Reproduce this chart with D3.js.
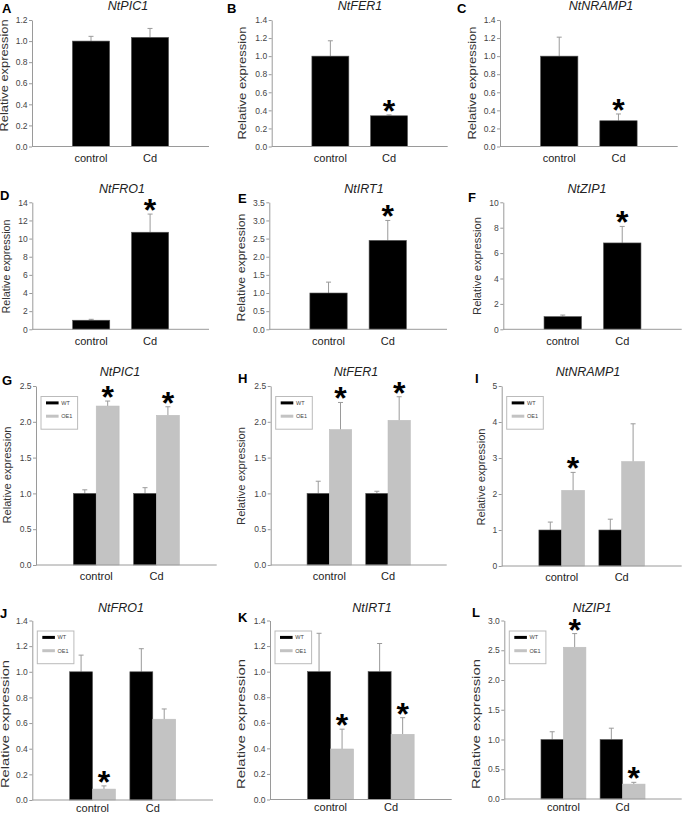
<!DOCTYPE html>
<html><head><meta charset="utf-8">
<script src="https://cdn.jsdelivr.net/npm/d3@7"></script>
<style>
body{margin:0;background:#fff}
svg{display:block}
text{font-family:"Liberation Sans",Arial,Helvetica,sans-serif}
</style>
</head><body>
<svg id="c" width="685" height="817"></svg>
<script>
// ---------------- DATA ----------------
const categories = ["control", "Cd"];
const seriesNames = ["WT", "OE1"];

// Panels A–F : one series, control vs Cd
const singleGenes   = ["NtPIC1", "NtFER1", "NtNRAMP1", "NtFRO1", "NtIRT1", "NtZIP1"];
const singleLetters = ["A", "B", "C", "D", "E", "F"];
const singleMeans   = [[1.00, 1.035], [1.00, 0.34], [1.00, 0.285], [1.00, 10.7], [1.00, 2.45], [1.00, 6.8]];
const singleErrors  = [[0.045, 0.085], [0.17, 0.01], [0.21, 0.075], [0.10, 2.0], [0.30, 0.55], [0.12, 1.3]];
const singleStars   = [[0, 0], [0, 1], [0, 1], [0, 1], [0, 1], [0, 1]];
const singleYMax    = [1.2, 1.4, 1.4, 14, 3.5, 10];
const singleYStep   = [0.2, 0.2, 0.2, 2, 0.5, 2];

// Panels G–L : WT vs OE1, control vs Cd
const pairGenes   = ["NtPIC1", "NtFER1", "NtNRAMP1", "NtFRO1", "NtIRT1", "NtZIP1"];
const pairLetters = ["G", "H", "I", "J", "K", "L"];
const wtMeans  = [[1, 1], [1, 1], [1, 1], [1, 1], [1, 1], [1, 1]];
const wtErrors = [[0.05, 0.08], [0.17, 0.03], [0.22, 0.30], [0.13, 0.18], [0.30, 0.22], [0.13, 0.19]];
const oeMeans  = [[2.22, 2.09], [1.89, 2.02], [2.1, 2.9], [0.085, 0.63], [0.395, 0.51], [2.55, 0.25]];
const oeErrors = [[0.07, 0.12], [0.38, 0.33], [0.5, 1.05], [0.025, 0.08], [0.155, 0.13], [0.23, 0.03]];
const oeStars  = [[1, 1], [1, 1], [1, 0], [1, 0], [1, 1], [1, 1]];
const pairYMax  = [2.5, 2.5, 5, 1.4, 1.4, 3.0];
const pairYStep = [0.5, 0.5, 1, 0.2, 0.2, 0.5];

// ---------------- LAYOUT (positions only) ----------------
const singleLayout = [
  {x0:32,   x1:209,   yT:20,    yB:146.5, tx:128, ty:10,  lx:2,   ly:13,  yx:8,     yy:75.5,  yl:112, pad:7.5},
  {x0:271.7,x1:447.7, yT:20,    yB:146.5, tx:360, ty:10,  lx:227, ly:13,  yx:245.5, yy:83,    yl:113, pad:7.5},
  {x0:500,  x1:677.7, yT:20,    yB:146.5, tx:601, ty:10,  lx:457, ly:13,  yx:476,   yy:83,    yl:113, pad:7.5},
  {x0:32.3, x1:209,   yT:202.3, yB:329.3, tx:122, ty:193, lx:0,   ly:200, yx:9.5,   yy:266.5, yl:94,  pad:8},
  {x0:269.3,x1:447,   yT:202.3, yB:329.3, tx:364, ty:193, lx:238, ly:203, yx:245,   yy:267.5, yl:108, pad:8},
  {x0:503.3,x1:681.7, yT:202.3, yB:329.3, tx:587, ty:193, lx:468, ly:202, yx:481,   yy:266,   yl:98,  pad:8}
];
const pairLayout = [
  {x0:36,   x1:216.7, yT:386,   yB:565,   tx:120, ty:376, lx:2,   ly:385, yx:11,  yy:475, yl:97,  pad:7},
  {x0:270.7,x1:446.7, yT:386,   yB:565,   tx:356, ty:376, lx:238, ly:383, yx:245, yy:476, yl:98,  pad:7},
  {x0:501.7,x1:681.7, yT:386,   yB:566,   tx:588, ty:376, lx:475, ly:383, yx:485, yy:477, yl:97,  pad:7},
  {x0:32.3, x1:213,   yT:620.5, yB:800,   tx:121, ty:612, lx:0,   ly:618, yx:8.5, yy:724, yl:128, pad:4},
  {x0:270,  x1:451.7, yT:620.5, yB:799.5, tx:372, ty:612, lx:238, ly:622, yx:245, yy:724, yl:130, pad:4},
  {x0:504.3,x1:681.7, yT:620.5, yB:799,   tx:592, ty:612, lx:472, ly:617, yx:480, yy:724, yl:130, pad:4}
];

const AXIS = "#9a9a9a", ERR = "#9a9a9a", TXT = "#333", WTC = "#000", OEC = "#c3c3c3";
const svg = d3.select("#c");

function frame(g, L, yMax, step, letter, gene) {
  const y = d3.scaleLinear().domain([0, yMax]).range([L.yB, L.yT]);
  const ticks = d3.range(0, yMax + step / 2, step);
  const fmt = step < 1 ? d3.format(".1f") : d3.format("d");
  const ya = g.append("g").attr("transform", `translate(${L.x0},0)`)
    .call(d3.axisLeft(y).tickValues(ticks).tickFormat(fmt).tickSize(3).tickSizeOuter(0).tickPadding(1.5));
  ya.select(".domain").attr("stroke", AXIS);
  ya.selectAll(".tick line").attr("stroke", AXIS);
  ya.selectAll(".tick text").attr("fill", "#444").style("font-size", "8.5px")
    .style("font-family", '"Liberation Sans",Arial,sans-serif');
  // y label
  g.append("text").attr("transform", `translate(${L.yx},${L.yy}) rotate(-90)`)
    .attr("text-anchor", "middle").attr("fill", TXT).style("font-size", "10px")
    .attr("textLength", L.yl).attr("lengthAdjust", "spacingAndGlyphs")
    .text("Relative expression");
  // title
  g.append("text").attr("x", L.tx).attr("y", L.ty).attr("text-anchor", "middle")
    .attr("fill", "#222").style("font-size", "12.5px").style("font-style", "italic").text(gene);
  // letter
  g.append("text").attr("x", L.lx).attr("y", L.ly).attr("fill", "#000")
    .style("font-size", "13px").style("font-weight", "bold").text(letter);
  return y;
}

function xAxis(g, L, x) {
  const xa = g.append("g").attr("transform", `translate(0,${L.yB})`)
    .call(d3.axisBottom(x).tickSize(0).tickSizeOuter(0).tickPadding(L.pad));
  xa.select(".domain").attr("stroke", AXIS).attr("d", `M${L.x0},0H${L.x1}`);
  xa.selectAll(".tick text").attr("fill", "#222").style("font-size", "11px")
    .style("font-family", '"Liberation Sans",Arial,sans-serif');
}

function errBar(g, cx, y, mean, err) {
  const y1 = y(mean), y2 = y(mean + err);
  g.append("line").attr("x1", cx).attr("x2", cx).attr("y1", y1).attr("y2", y2)
    .attr("stroke", ERR).attr("stroke-width", 1);
  g.append("line").attr("x1", cx - 2.5).attr("x2", cx + 2.5).attr("y1", y2).attr("y2", y2)
    .attr("stroke", ERR).attr("stroke-width", 1);
}
function star(g, cx, yTop) {
  g.append("text").attr("x", cx).attr("y", yTop + 7).attr("text-anchor", "middle")
    .attr("fill", "#000").style("font-size", "32px").style("font-weight", "bold").text("*");
}

// single-series panels
singleGenes.forEach((gene, i) => {
  const L = singleLayout[i];
  const g = svg.append("g");
  const y = frame(g, L, singleYMax[i], singleYStep[i], singleLetters[i], gene);
  const x = d3.scaleBand().domain(categories).range([L.x0, L.x1]).paddingInner(0.37).paddingOuter(0.685);
  categories.forEach((c, j) => {
    const m = singleMeans[i][j], e = singleErrors[i][j];
    errBar(g, x(c) + x.bandwidth() / 2, y, m, e);
    g.append("rect").attr("x", x(c)).attr("width", x.bandwidth())
      .attr("y", y(m)).attr("height", y(0) - y(m))
      .attr("fill", WTC).attr("stroke", "#555").attr("stroke-width", 0.6);
    if (singleStars[i][j]) star(g, x(c) + x.bandwidth() / 2, y(m + e));
  });
  xAxis(g, L, x);
});

// two-series panels
pairGenes.forEach((gene, i) => {
  const L = pairLayout[i];
  const g = svg.append("g");
  const y = frame(g, L, pairYMax[i], pairYStep[i], pairLetters[i], gene);
  const x = d3.scaleBand().domain(categories).range([L.x0, L.x1]).paddingInner(0.24).paddingOuter(0.62);
  const xs = d3.scaleBand().domain(seriesNames).range([0, x.bandwidth()]).padding(0);
  const means = [wtMeans[i], oeMeans[i]], errs = [wtErrors[i], oeErrors[i]];
  categories.forEach((c, j) => {
    seriesNames.forEach((s, k) => {
      const m = means[k][j], e = errs[k][j];
      const bx = x(c) + xs(s), cx = bx + xs.bandwidth() / 2;
      errBar(g, cx, y, m, e);
      g.append("rect").attr("x", bx).attr("width", xs.bandwidth())
        .attr("y", y(m)).attr("height", y(0) - y(m))
        .attr("fill", k === 0 ? WTC : OEC)
        .attr("stroke", k === 0 ? "#555" : "#bdbdbd").attr("stroke-width", 0.6);
      if (k === 1 && oeStars[i][j]) star(g, cx, y(m + e));
    });
  });
  xAxis(g, L, x);
  // legend
  const lg = g.append("g").attr("transform", `translate(${L.x0 + 5},${L.yT + 10.5})`);
  lg.append("rect").attr("width", 36.6).attr("height", 32.7)
    .attr("fill", "#fff").attr("stroke", "#bbb").attr("stroke-width", 1);
  seriesNames.forEach((s, k) => {
    const ly = 6.4 + k * 13.3;
    lg.append("line").attr("x1", 5).attr("x2", 17.6).attr("y1", ly).attr("y2", ly)
      .attr("stroke", k === 0 ? WTC : OEC).attr("stroke-width", 3);
    lg.append("text").attr("x", 20.3).attr("y", ly + 1.9).attr("fill", "#444")
      .style("font-size", "5.5px").text(s);
  });
});
</script>
</body></html>
